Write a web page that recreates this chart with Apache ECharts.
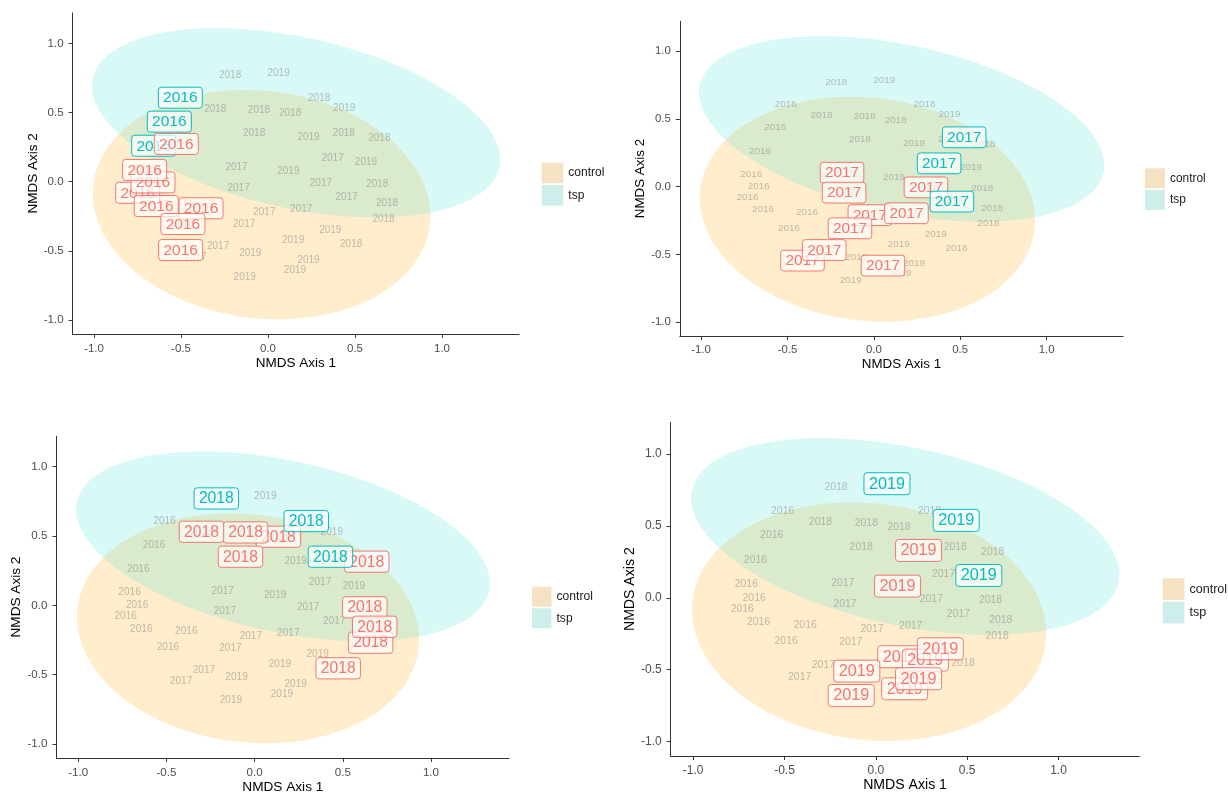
<!DOCTYPE html>
<html><head><meta charset="utf-8">
<script src="https://cdn.jsdelivr.net/npm/echarts@6.0.0/dist/echarts.min.js"></script>
<style>html,body{margin:0;padding:0;background:#fff}#c{width:1228px;height:795px}</style>
</head><body><div id="c"></div>
<script>
// ---------------- data ----------------
const groups = ['control', 'tsp'];
const highlightYears = [2016, 2017, 2018, 2019];
const tickValues = [-1, -0.5, 0, 0.5, 1];
const xTitle = 'NMDS Axis 1';
const yTitle = 'NMDS Axis 2';

// NMDS site scores (gray labels) per year: [axis1, axis2]
const gray2016 = [[-0.51,0.605],[-0.57,0.435],[-0.659,0.26],[-0.709,0.092],[-0.666,0.0],[-0.731,-0.077],[-0.642,-0.17],[-0.387,-0.19],[-0.491,-0.304]];
const gray2017 = [[0.371,0.166],[-0.181,0.102],[0.304,-0.01],[-0.169,-0.044],[0.452,-0.115],[-0.021,-0.22],[0.191,-0.198],[-0.137,-0.31],[-0.287,-0.467],[-0.417,-0.549]];
const gray2018 = [[-0.218,0.772],[0.294,0.605],[-0.303,0.527],[-0.052,0.52],[0.127,0.492],[-0.08,0.35],[0.435,0.35],[0.64,0.316],[0.628,-0.015],[0.684,-0.157],[0.664,-0.27],[0.478,-0.452]];
const gray2019 = [[0.061,0.784],[0.438,0.531],[0.233,0.321],[0.563,0.14],[0.117,0.072],[0.358,-0.354],[0.144,-0.422],[-0.102,-0.518],[0.233,-0.566],[0.155,-0.638],[-0.134,-0.687]];

// highlighted (boxed) labels per panel: [axis1, axis2, groupIndex] (0 control, 1 tsp), in drawing order
const boxes2016 = [[-0.504,0.607,1],[-0.567,0.434,1],[-0.657,0.26,1],
  [-0.749,-0.08,0],[-0.642,-0.176,0],[-0.661,-0.005,0],[-0.709,0.085,0],[-0.527,0.273,0],[-0.385,-0.192,0],[-0.489,-0.306,0],[-0.502,-0.494,0]];
const boxes2017 = [[-0.184,0.103,0],[-0.172,-0.044,0],[0.302,-0.005,0],[-0.023,-0.21,0],[0.189,-0.196,0],[-0.138,-0.307,0],[-0.413,-0.545,0],[-0.287,-0.467,0],[0.053,-0.582,0],
  [0.523,0.364,1],[0.378,0.172,1],[0.452,-0.11,1]];
const boxes2018 = [[0.135,0.495,0],[-0.051,0.526,0],[-0.301,0.531,0],[-0.08,0.351,0],[0.636,0.315,0],[0.625,-0.014,0],[0.658,-0.269,0],[0.681,-0.154,0],[0.474,-0.454,0],
  [-0.217,0.771,1],[0.293,0.608,1],[0.43,0.351,1]];
const boxes2019 = [[0.136,-0.41,0],[0.271,-0.433,0],[0.353,-0.355,0],[0.234,0.329,0],[0.119,0.081,0],[-0.104,-0.51,0],[0.158,-0.633,0],[0.234,-0.563,0],[-0.135,-0.679,0],
  [0.061,0.793,1],[0.44,0.538,1],[0.564,0.155,1]];

// confidence ellipses: [centerX, centerY, halfWidth, halfHeight, correlation]
const ellipseControl = [-0.037, -0.166, 0.97, 0.829, -0.1];
const ellipseTsp = [0.161, 0.426, 1.173, 0.684, -0.39];

// ---------------- layout / style ----------------
const FONT = '"Liberation Sans", Arial, Helvetica, sans-serif';
const grids = [
  {left:72.6, top:12.9, width:446.5, height:321},
  {left:679.8, top:21.2, width:443.3, height:314.7},
  {left:56.5, top:436.2, width:452.6, height:321.7},
  {left:670.7, top:422.3, width:468.7, height:333.7}
];
const scales = [1.0, 0.99, 1.01, 1.045];
const legends = [
  {left:541.7, top:162.7, w:21.6, h:20.6, gap:1.7},
  {left:1145, top:168.3, w:20, h:20, gap:1.7},
  {left:532, top:586.7, w:19.5, h:20, gap:1.6},
  {left:1162.7, top:578.3, w:21.8, h:21.7, gap:1.7}
];
const fillColors = ['rgba(255,165,0,0.2)', 'rgba(64,224,208,0.2)'];
const keyColors = ['#F5E2C3', '#CDEEEA'];
const labelColors = ['#F8766D', '#00BFC4'];
const grayColor = 'rgba(127,127,127,0.5)';

const allGray = [];
[[2016,gray2016],[2017,gray2017],[2018,gray2018],[2019,gray2019]].forEach(([yr, arr]) => arr.forEach(p => allGray.push([p[0], p[1], yr])));
const panelBoxes = [boxes2016, boxes2017, boxes2018, boxes2019];

function ellipseRender(color) {
  return function (params, api) {
    const cx = api.value(0), cy = api.value(1), W = api.value(2), H = api.value(3), r = api.value(4);
    const s = Math.sqrt(1 - r * r);
    const pts = [];
    const N = 160;
    for (let i = 0; i < N; i++) {
      const t = 2 * Math.PI * i / N;
      pts.push(api.coord([cx + W * Math.cos(t), cy + H * (r * Math.cos(t) + s * Math.sin(t))]));
    }
    return {type: 'polygon', shape: {points: pts}, style: {fill: color}};
  };
}
function grayRender(sc) {
  return function (params, api) {
    const p = api.coord([api.value(0), api.value(1)]);
    return {type: 'text', x: p[0], y: p[1], style: {text: String(api.value(2)), fill: grayColor,
      font: (10 * sc).toFixed(2) + 'px ' + FONT, align: 'center', verticalAlign: 'middle'}};
  };
}
function boxRender(sc) {
  return function (params, api) {
    const p = api.coord([api.value(0), api.value(1)]);
    const g = api.value(3);
    const c = labelColors[g];
    const w = 44 * sc, h = 21 * sc;
    return {type: 'group', children: [
      {type: 'rect', shape: {x: p[0] - w / 2, y: p[1] - h / 2, width: w, height: h, r: 3},
        style: {fill: 'rgba(255,255,255,0.7)', stroke: c, lineWidth: 1}},
      {type: 'text', x: p[0], y: p[1] + 0.5, style: {text: String(api.value(2)), fill: c,
        font: (15.5 * sc).toFixed(2) + 'px ' + FONT, align: 'center', verticalAlign: 'middle'}}
    ]};
  };
}

const option = {animation: false, backgroundColor: '#fff', grid: [], xAxis: [], yAxis: [], legend: [], series: []};
for (let i = 0; i < 4; i++) {
  const sc = scales[i];
  option.grid.push(Object.assign({containLabel: false}, grids[i]));
  option.xAxis.push({gridIndex: i, type: 'value', min: -1.123, max: 1.443,
    axisLine: {show: true, onZero: false, lineStyle: {color: '#333', width: 1}},
    axisTick: {show: true, length: 4, customValues: tickValues, lineStyle: {color: '#333'}},
    axisLabel: {customValues: tickValues, formatter: v => v.toFixed(1), color: '#4d4d4d', fontSize: 11.5 * sc, margin: 8.5, fontFamily: FONT},
    splitLine: {show: false},
    name: xTitle, nameLocation: 'middle', nameGap: 22, nameTextStyle: {color: '#000', fontSize: 13.5 * sc, fontFamily: FONT}});
  option.yAxis.push({gridIndex: i, type: 'value', min: -1.10, max: 1.22,
    axisLine: {show: true, onZero: false, lineStyle: {color: '#333', width: 1}},
    axisTick: {show: true, length: 4, customValues: tickValues, lineStyle: {color: '#333'}},
    axisLabel: {customValues: tickValues, formatter: v => v.toFixed(1), color: '#4d4d4d', fontSize: 11.5 * sc, margin: 9, fontFamily: FONT},
    splitLine: {show: false},
    name: yTitle, nameLocation: 'middle', nameRotate: 90, nameGap: 27.5, nameTextStyle: {color: '#000', fontSize: 13.5 * sc, fontFamily: FONT}});
  const L = legends[i];
  option.legend.push({left: L.left, top: L.top, orient: 'vertical', icon: 'rect', itemWidth: L.w, itemHeight: L.h, itemGap: L.gap,
    selectedMode: false, padding: 0,
    textStyle: {color: '#1a1a1a', fontSize: 12 * sc, fontFamily: FONT},
    data: groups.map((g, k) => ({name: g, itemStyle: {color: keyColors[k]}}))});
  option.series.push({type: 'custom', name: groups[0], xAxisIndex: i, yAxisIndex: i, silent: true, z: 1,
    encode: {x: 0, y: 1}, data: [ellipseControl], renderItem: ellipseRender(fillColors[0])});
  option.series.push({type: 'custom', name: groups[1], xAxisIndex: i, yAxisIndex: i, silent: true, z: 2,
    encode: {x: 0, y: 1}, data: [ellipseTsp], renderItem: ellipseRender(fillColors[1])});
  option.series.push({type: 'custom', name: 'sites', xAxisIndex: i, yAxisIndex: i, silent: true, z: 3,
    encode: {x: 0, y: 1}, data: allGray, renderItem: grayRender(sc)});
  option.series.push({type: 'custom', name: 'highlight ' + highlightYears[i], xAxisIndex: i, yAxisIndex: i, silent: true, z: 4,
    encode: {x: 0, y: 1}, data: panelBoxes[i].map(b => [b[0], b[1], highlightYears[i], b[2]]), renderItem: boxRender(sc)});
}
const chart = echarts.init(document.getElementById('c'), null, {renderer: 'canvas'});
chart.setOption(option);
</script></body></html>
